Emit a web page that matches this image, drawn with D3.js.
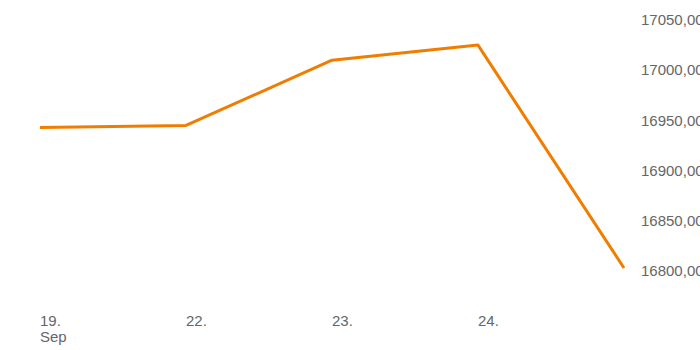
<!DOCTYPE html>
<html>
<head>
<meta charset="utf-8">
<script src="https://cdn.jsdelivr.net/npm/d3@7"></script>
<style>
  body { margin: 0; background: #fff; }
  svg text { font-family: "Liberation Sans", Arial, sans-serif; font-size: 15px; fill: #666; }
</style>
</head>
<body>
<div id="chart"></div>
<script>
// data
var days = ["19.", "22.", "23.", "24.", "25."];
var dayLabels = ["19.", "22.", "23.", "24.", ""];
var values = [16943, 16945, 17010, 17025, 16803];
var yTicks = [16800, 16850, 16900, 16950, 17000, 17050];

var w = 700;
var h = 350;

var svg = d3.select("#chart")
            .append("svg")
            .attr("width", w)
            .attr("height", h);

// x: one slot per trading day
var x = d3.scalePoint()
          .domain(days)
          .range([40, 624]);

var y = d3.scaleLinear()
          .domain([16800, 17050])
          .range([271, 20]);

// y labels on the right, cut by the edge
svg.append("g")
   .selectAll("text")
   .data(yTicks)
   .enter()
   .append("text")
   .attr("x", 641)
   .attr("y", function (d) { return y(d); })
   .attr("dy", "0.35em")
   .text(function (d) { return d3.format(".2f")(d).replace(".", ","); });

// x labels, left aligned at the point
svg.append("g")
   .selectAll("text")
   .data(days)
   .enter()
   .append("text")
   .attr("x", function (d) { return x(d); })
   .attr("y", 326)
   .text(function (d, i) { return dayLabels[i]; });

svg.append("text")
   .attr("x", x(days[0]))
   .attr("y", 342)
   .text("Sep");

var line = d3.line()
             .x(function (d, i) { return x(days[i]); })
             .y(function (d) { return y(d); });

svg.append("path")
   .datum(values)
   .attr("d", line)
   .attr("fill", "none")
   .attr("stroke", "#f07d00")
   .attr("stroke-width", 3)
   .attr("stroke-linejoin", "round");
</script>
</body>
</html>
